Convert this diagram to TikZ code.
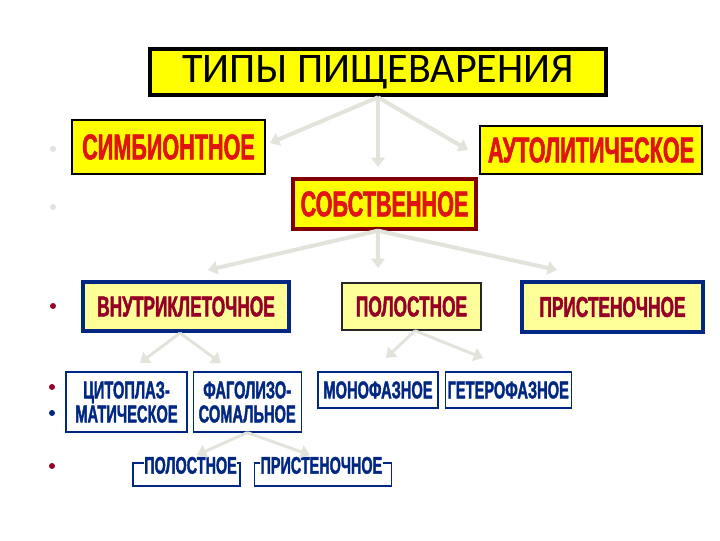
\documentclass[tikz,border=0pt]{standalone}
\usepackage{fontspec}
\newfontfamily\titlefont{Carlito}
\newfontfamily\boxfont[FakeStretch=0.6,FakeBold=1.5]{Liberation Sans}
\usetikzlibrary{arrows.meta,positioning}
\definecolor{hiyellow}{RGB}{255,255,0}
\definecolor{paleyellow}{RGB}{255,255,153}
\definecolor{boxred}{RGB}{225,20,20}
\definecolor{wine}{RGB}{150,0,40}
\definecolor{deepblue}{RGB}{0,40,130}
\definecolor{maroonedge}{RGB}{128,0,0}
\definecolor{arrowgrey}{RGB}{226,228,220}
\definecolor{bulletgrey}{RGB}{225,225,225}
\tikzset{titlebox/.style={
    % The shape:
    rectangle,
    minimum width=342pt,
    minimum height=34.5pt,
    % The border:
    draw=black,
    line width=3.5pt,
    fill=hiyellow,
    % Font
    font=\titlefont\fontsize{31.5}{36}\selectfont
    },
    topbox/.style={
    rectangle,
    draw=black,
    line width=1pt,
    fill=hiyellow,
    text=boxred,
    font=\boxfont\bfseries\fontsize{27}{30}\selectfont
    },
    midbox/.style={
    rectangle,
    minimum height=36.75pt,
    draw=deepblue,
    line width=3pt,
    fill=paleyellow,
    text=wine,
    font=\boxfont\bfseries\fontsize{21.6}{24}\selectfont
    },
    lowbox/.style={
    rectangle,
    inner xsep=1.5pt,
    draw=deepblue,
    line width=0.9pt,
    fill=white,
    text=deepblue,
    align=center,
    font=\boxfont\bfseries\fontsize{18.3}{18}\selectfont
    },
    flatlabel/.style={
    fill=white,
    inner sep=0.5pt,
    text=deepblue,
    font=\boxfont\bfseries\fontsize{18}{18}\selectfont
    },
    branch/.style={
    draw=arrowgrey,
    line width=3pt,
    -{Triangle[width=10pt,length=7pt]}
    },
    dot/.style={circle, inner sep=0pt, minimum size=4.5pt},
}

\begin{document}
\begin{tikzpicture}[x=0.75pt, y=-0.75pt]
    \path[fill=white] (0,0) rectangle (720,540);
    \useasboundingbox (0,0) rectangle (720,540);

    \node (types)    [titlebox] at (378,72) {ТИПЫ ПИЩЕВАРЕНИЯ};
    \node (symb)     [topbox,minimum width=144.75pt,minimum height=40.5pt] at (168.5,147) {СИМБИОНТНОЕ};
    \node (autol)    [topbox,minimum width=166.5pt,minimum height=36pt] at (591,150) {АУТОЛИТИЧЕСКОЕ};
    \node (own)      [topbox,draw=maroonedge,line width=2.5pt,minimum width=137.25pt,minimum height=37.5pt] at (384.5,204) {СОБСТВЕННОЕ};

    \node (intra)    [midbox,minimum width=154.5pt] at (186,306.5) {ВНУТРИКЛЕТОЧНОЕ};
    \node (cavity)   [midbox,draw=black!85,line width=1pt,minimum width=104.25pt,minimum height=35.25pt] at (411.5,306.5) {ПОЛОСТНОЕ};
    \node (parietal) [midbox,minimum width=135.75pt,minimum height=37.5pt] at (612.5,307) {ПРИСТЕНОЧНОЕ};

    \node (cyto)     [lowbox,minimum width=90.75pt,minimum height=45pt] at (126.5,402) {ЦИТОПЛАЗ-\\МАТИЧЕСКОЕ};
    \node (phago)    [lowbox,minimum width=81pt,minimum height=45pt,right=3.75pt of cyto] {ФАГОЛИЗО-\\СОМАЛЬНОЕ};
    \node (mono)     [lowbox,minimum width=90pt,minimum height=27pt] at (378,390) {МОНОФАЗНОЕ};
    \node (hetero)   [lowbox,minimum width=94.5pt,minimum height=27pt,right=4.5pt of mono] {ГЕТЕРОФАЗНОЕ};

    \node (cavbox)   [lowbox,minimum width=80.25pt,minimum height=17.25pt] at (186.5,474.5) {};
    \node (wallbox)  [lowbox,minimum width=102.75pt,minimum height=17.25pt,right=9.75pt of cavbox] {};
    \node (cavtext)  [flatlabel] at ([xshift=3pt,yshift=-2.25pt]cavbox.north) {ПОЛОСТНОЕ};
    \node (walltext) [flatlabel] at ([xshift=-1pt,yshift=-2.25pt]wallbox.north) {ПРИСТЕНОЧНОЕ};

    % bullets on the left
    \node (dot1) [dot,fill=bulletgrey] at (53,149) {};
    \node (dot2) [dot,fill=bulletgrey] at (53,207) {};
    \node (dot3) [dot,fill=wine] at (53,306) {};
    \node (dot4) [dot,fill=wine] at (52,387) {};
    \node (dot5) [dot,fill=deepblue] at (52,413) {};
    \node (dot6) [dot,fill=wine] at (52,466) {};

    % arrow ends
    \coordinate (toSymb)   at (270,143);
    \coordinate (toOwn)    at (378,167);
    \coordinate (toAutol)  at (468,150);
    \coordinate (toIntra)  at (208,270);
    \coordinate (toCavity) at (378,268);
    \coordinate (toPariet) at (557,270);
    \coordinate (toCyto)   at (140,363);
    \coordinate (toPhago)  at (221,363);
    \coordinate (toMono)   at (386,358);
    \coordinate (toHetero) at (483,358);
    \coordinate (toCav)    at (197,455);
    \coordinate (toWall)   at (310,455);

    \draw [branch] (types.south) -- (toSymb);
    \draw [branch] (types.south) -- (toOwn);
    \draw [branch] (types.south) -- (toAutol);
    \draw [branch] ([xshift=-4.9pt]own.south) -- (toIntra);
    \draw [branch] ([xshift=-4.9pt]own.south) -- (toCavity);
    \draw [branch] ([xshift=-4.9pt]own.south) -- (toPariet);
    \draw [branch,line width=2.2pt] ([xshift=-4.5pt]intra.south) -- (toCyto);
    \draw [branch,line width=2.2pt] ([xshift=-4.5pt]intra.south) -- (toPhago);
    \draw [branch,line width=2.2pt] ([xshift=2.6pt]cavity.south) -- (toMono);
    \draw [branch,line width=2.2pt] ([xshift=2.6pt]cavity.south) -- (toHetero);
    \draw [branch,line width=2.2pt] (phago.south) -- (toCav);
    \draw [branch,line width=2.2pt] (phago.south) -- (toWall);
\end{tikzpicture}
\end{document}
